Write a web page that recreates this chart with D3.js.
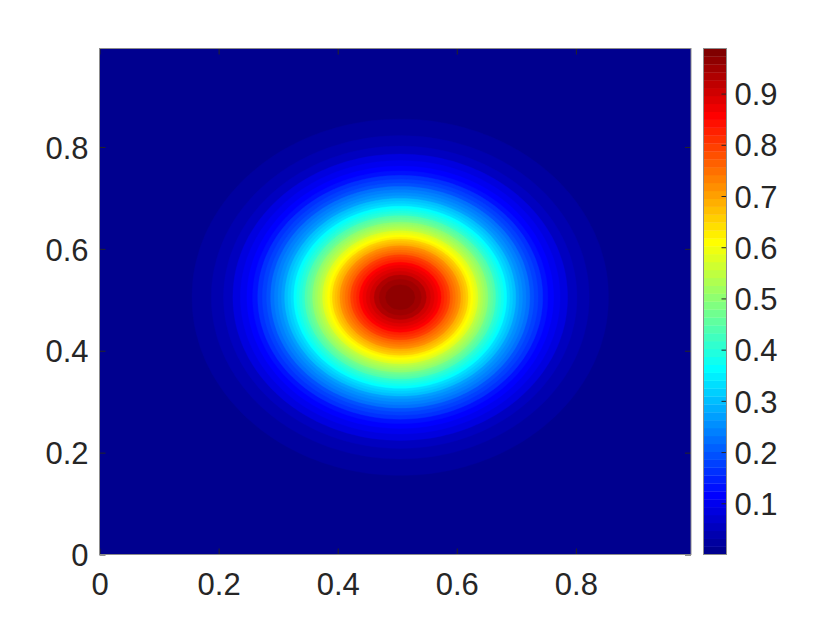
<!DOCTYPE html>
<html>
<head>
<meta charset="utf-8">
<script src="https://cdn.jsdelivr.net/npm/d3@7"></script>
<style>
  body { margin: 0; background: #fff; }
  text { font-family: "Liberation Sans", Arial, Helvetica, sans-serif; fill: #262626; }
</style>
</head>
<body>
<svg id="svg_contour" width="830" height="623"></svg>
<script>
// Filled contour of a bump centred at (0.5, 0.5), jet colormap

// values along the centre line (x = 0, 0.01, ... 1.00), same along y
const profile = [
  0.0003, 0.0005, 0.0006, 0.0008, 0.0011, 0.0015, 0.0020, 0.0027, 0.0035, 0.0046,
  0.0059, 0.0076, 0.0098, 0.0124, 0.0157, 0.0197, 0.0246, 0.0305, 0.0375, 0.0459,
  0.0558, 0.0674, 0.0809, 0.0964, 0.1143, 0.1345, 0.1573, 0.1829, 0.2112, 0.2424,
  0.2764, 0.3131, 0.3525, 0.3942, 0.4381, 0.4838, 0.5309, 0.5788, 0.6270, 0.6749,
  0.7218, 0.7670, 0.8099, 0.8498, 0.8858, 0.9176, 0.9444, 0.9658, 0.9814, 0.9908,
  0.9940,
  0.9908, 0.9814, 0.9658, 0.9444, 0.9176, 0.8858, 0.8498, 0.8099, 0.7670, 0.7218,
  0.6749, 0.6270, 0.5788, 0.5309, 0.4838, 0.4381, 0.3942, 0.3525, 0.3131, 0.2764,
  0.2424, 0.2112, 0.1829, 0.1573, 0.1345, 0.1143, 0.0964, 0.0809, 0.0674, 0.0558,
  0.0459, 0.0375, 0.0305, 0.0246, 0.0197, 0.0157, 0.0124, 0.0098, 0.0076, 0.0059,
  0.0046, 0.0035, 0.0027, 0.0020, 0.0015, 0.0011, 0.0008, 0.0006, 0.0005, 0.0003
];
const gridStep = 0.01;
const axisMax = 0.9933;
const levelCount = 50;

const xTicks = [0, 0.2, 0.4, 0.6, 0.8];
const yTicks = [0, 0.2, 0.4, 0.6, 0.8];
const cbTicks = [0.1, 0.2, 0.3, 0.4, 0.5, 0.6, 0.7, 0.8, 0.9];

// jet(64)
function jetRow(i) { // 1-based like matlab
  let r = i <= 24 ? 0 : i <= 39 ? (i - 24) / 16 : i <= 56 ? 1 : (72 - i) / 16;
  let g = i <= 8 ? 0 : i <= 23 ? (i - 8) / 16 : i <= 40 ? 1 : i <= 55 ? (56 - i) / 16 : 0;
  let b = i <= 7 ? (8 + i) / 16 : i <= 24 ? 1 : i <= 39 ? (40 - i) / 16 : 0;
  return d3.rgb(r * 255, g * 255, b * 255).formatHex();
}
const jet64 = d3.range(1, 65).map(jetRow);

const svg = d3.select('#svg_contour');

// grid
const n = profile.length;
const values = new Array(n * n);
for (let j = 0; j < n; j++) {
  for (let i = 0; i < n; i++) {
    values[j * n + i] = profile[i] * profile[j];
  }
}
const zMin = d3.min(values);
const zMax = d3.max(values);
console.log(zMin, zMax);

const levels = d3.range(levelCount).map(k => zMin + k * (zMax - zMin) / levelCount);

function colorOf(v) {
  let idx = Math.floor((v - zMin) / (zMax - zMin) * 64);
  idx = Math.max(0, Math.min(63, idx));
  return jet64[idx];
}

// Scales
const xScale = d3.scaleLinear().domain([0, axisMax]).range([99.5, 691]);
const yScale = d3.scaleLinear().domain([0, axisMax]).range([554.5, 48.5]);
const cScale = d3.scaleLinear().domain([zMin, zMax]).range([554.5, 48.5]);

svg.append('clipPath').attr('id', 'plotClip')
   .append('rect')
   .attr('x', 99.5).attr('y', 48.5)
   .attr('width', 691 - 99.5).attr('height', 554.5 - 48.5);

const plotG = svg.append('g').attr('clip-path', 'url(#plotClip)');

plotG.append('rect')
     .attr('x', 99.5).attr('y', 48.5)
     .attr('width', 691 - 99.5).attr('height', 554.5 - 48.5)
     .attr('fill', jet64[0]);

const contours = d3.contours()
                   .size([n, n])
                   .thresholds(levels)
                   .smooth(true)(values);

const proj = d3.geoTransform({
  point: function(x, y) {
    this.stream.point(xScale(x * gridStep), yScale(y * gridStep));
  }
});
const path = d3.geoPath(proj);

plotG.selectAll('path.level')
     .data(contours)
     .join('path')
     .attr('class', 'level')
     .attr('d', path)
     .attr('fill', d => colorOf(d.value))
     .attr('stroke', d => colorOf(d.value))
     .attr('stroke-width', 0.4);

// Axes
const fmt = d => d === 0 ? '0' : String(d);
const fontSize = 31;

function styleAxis(g) {
  g.selectAll('.domain').remove();
  g.selectAll('.tick line').attr('stroke', '#262626').attr('stroke-width', 1);
  g.selectAll('.tick text').style('font-size', fontSize + 'px').attr('fill', '#262626');
}

svg.append('g')
   .attr('transform', `translate(0, 554.5)`)
   .call(d3.axisBottom(xScale).tickValues(xTicks).tickFormat(fmt)
           .tickSizeInner(-6).tickSizeOuter(0).tickPadding(18.5))
   .call(styleAxis);

svg.append('g')
   .attr('transform', `translate(0, 48.5)`)
   .call(d3.axisTop(xScale).tickValues(xTicks).tickFormat('')
           .tickSizeInner(-6).tickSizeOuter(0))
   .call(styleAxis);

svg.append('g')
   .attr('transform', `translate(99.5, 0)`)
   .call(d3.axisLeft(yScale).tickValues(yTicks).tickFormat(fmt)
           .tickSizeInner(-6).tickSizeOuter(0).tickPadding(11))
   .call(styleAxis)
   .selectAll('.tick text').attr('dy', '0.36em');

svg.append('g')
   .attr('transform', `translate(691, 0)`)
   .call(d3.axisRight(yScale).tickValues(yTicks).tickFormat('')
           .tickSizeInner(-6).tickSizeOuter(0))
   .call(styleAxis);

// plot box
svg.append('rect')
   .attr('x', 99.5).attr('y', 48.5)
   .attr('width', 691 - 99.5).attr('height', 554.5 - 48.5)
   .attr('fill', 'none').attr('stroke', '#8c8c8c').attr('stroke-width', 1);

// Colorbar
const cbLeft = 703.5, cbRight = 726.5;
const cbG = svg.append('g');
const bandEdges = d3.range(65).map(k => zMin + k * (zMax - zMin) / 64);
cbG.selectAll('rect.band')
   .data(d3.range(64))
   .join('rect')
   .attr('class', 'band')
   .attr('x', cbLeft)
   .attr('width', cbRight - cbLeft)
   .attr('y', k => cScale(bandEdges[k + 1]))
   .attr('height', k => cScale(bandEdges[k]) - cScale(bandEdges[k + 1]) + 0.3)
   .attr('fill', k => jet64[k]);

svg.append('g')
   .attr('transform', `translate(${cbRight}, 0)`)
   .call(d3.axisRight(cScale).tickValues(cbTicks).tickFormat(fmt)
           .tickSizeInner(-5).tickSizeOuter(0).tickPadding(8))
   .call(styleAxis)
   .selectAll('.tick text').attr('dy', '0.36em');

svg.append('rect')
   .attr('x', cbLeft).attr('y', 48.5)
   .attr('width', cbRight - cbLeft).attr('height', 554.5 - 48.5)
   .attr('fill', 'none').attr('stroke', '#8c8c8c').attr('stroke-width', 1);
</script>
</body>
</html>
